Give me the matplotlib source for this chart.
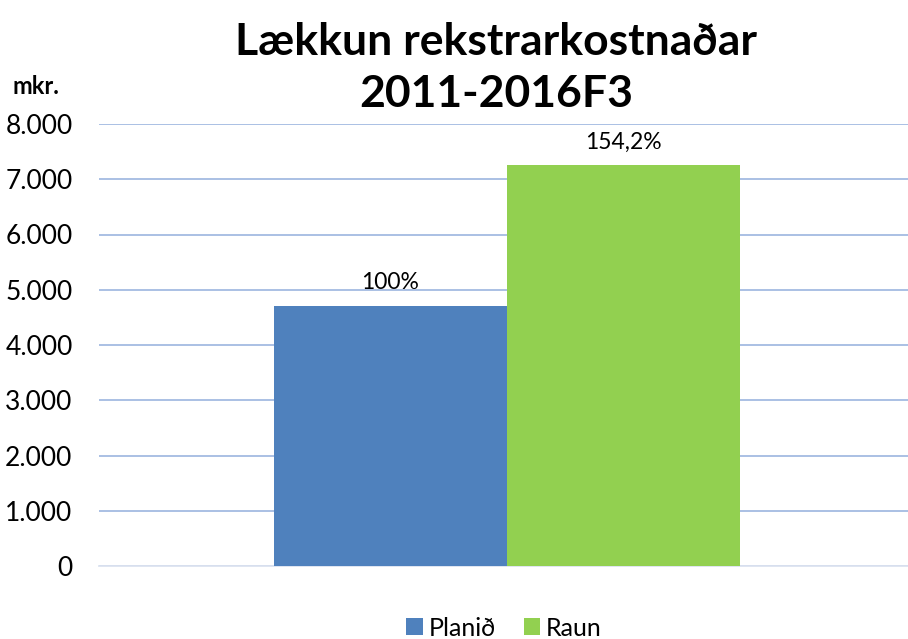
import matplotlib.pyplot as plt
from matplotlib.patches import Patch

plt.rcParams["font.family"] = ["Lato", "DejaVu Sans"]

series = ["Planið", "Raun"]
values = [4705, 7255]
labels = ["100%", "154,2%"]
colors = ["#4F81BD", "#92D050"]
yticks = [0, 1000, 2000, 3000, 4000, 5000, 6000, 7000, 8000]
ytick_labels = ["0", "1.000", "2.000", "3.000", "4.000", "5.000", "6.000", "7.000", "8.000"]

fig = plt.figure(figsize=(9.08, 6.39), dpi=100)
ax = fig.add_axes([99 / 908, (639 - 566) / 639, 816 / 908, 442 / 639])

width = 0.2855
offsets = [-width / 2, width / 2]
for off, v, lab, c in zip(offsets, values, labels, colors):
    ax.bar(off, v, width=width, color=c, zorder=3)
    ax.text(off, v + 230, lab, ha="center", va="bottom", fontsize=16.5, color="#000000")

ax.set_xlim(-0.5, 0.5)
ax.set_ylim(0, 8000)
ax.set_yticks(yticks)
ax.set_yticklabels(ytick_labels, fontsize=19)
ax.set_xticks([])
ax.tick_params(axis="y", length=0, pad=19)
ax.grid(axis="y", color="#A4BBE2", linewidth=1.3, zorder=0)
for s in ["top", "right", "left"]:
    ax.spines[s].set_visible(False)
ax.spines["bottom"].set_color("#DCE3F0")
ax.spines["bottom"].set_linewidth(1.3)

fig.text(496 / 908, 1 - 68 / 639, "Lækkun rekstrarkostnaðar\n2011-2016F3", ha="center",
         va="center", fontsize=32, fontweight="bold", linespacing=1.35)
fig.text(12 / 908, 1 - 87 / 639, "mkr.", ha="left", va="center", fontsize=17, fontweight="bold")

handles = [Patch(facecolor=c, label=s) for s, c in zip(series, colors)]
fig.legend(handles=handles, loc="center", bbox_to_anchor=(504 / 908, 1 - 628 / 639), ncol=2,
           frameon=False, fontsize=18, handlelength=0.65, handleheight=0.65, handletextpad=0.25,
           columnspacing=1.1)

fig.savefig("out.png", dpi=100)
